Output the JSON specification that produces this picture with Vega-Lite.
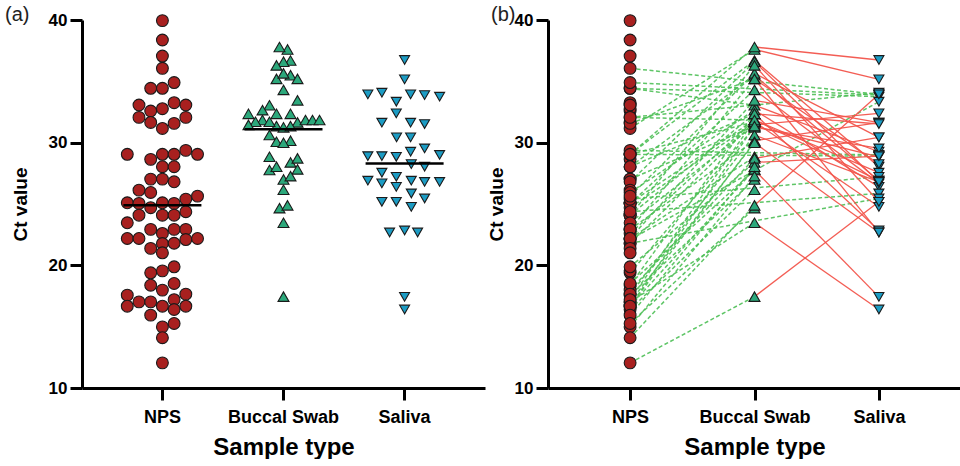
{
"$schema": "https://vega.github.io/schema/vega-lite/v6.json",
"padding": {"left": 5, "top": 5, "right": 0, "bottom": 0},
"spacing": 63,
"bounds": "flush",
"datasets": {
"medians": [{"sample":"NPS","median":24.9},{"sample":"Buccal Swab","median":31.1},{"sample":"Saliva","median":28.3}],
"points": [
{"id":1,"sample":"NPS","ct":39.95,"swarm":0},
{"id":2,"sample":"NPS","ct":38.37,"swarm":0},
{"id":3,"sample":"NPS","ct":37.06,"swarm":0},
{"id":4,"sample":"NPS","ct":36.06,"swarm":0},
{"id":5,"sample":"NPS","ct":34.43,"swarm":-11.7},
{"id":6,"sample":"NPS","ct":34.43,"swarm":0},
{"id":7,"sample":"NPS","ct":34.9,"swarm":11.7},
{"id":8,"sample":"NPS","ct":33.07,"swarm":-23.4},
{"id":9,"sample":"NPS","ct":32.58,"swarm":-11.7},
{"id":10,"sample":"NPS","ct":32.77,"swarm":0},
{"id":11,"sample":"NPS","ct":33.26,"swarm":11.7},
{"id":12,"sample":"NPS","ct":33.07,"swarm":23.4},
{"id":13,"sample":"NPS","ct":32.06,"swarm":-23.4},
{"id":14,"sample":"NPS","ct":31.65,"swarm":-11.7},
{"id":15,"sample":"NPS","ct":31.16,"swarm":0},
{"id":16,"sample":"NPS","ct":31.57,"swarm":11.7},
{"id":17,"sample":"NPS","ct":32.06,"swarm":23.4},
{"id":18,"sample":"NPS","ct":29.05,"swarm":-35.1},
{"id":19,"sample":"NPS","ct":28.64,"swarm":-11.7},
{"id":20,"sample":"NPS","ct":29.05,"swarm":0},
{"id":21,"sample":"NPS","ct":29.05,"swarm":11.7},
{"id":22,"sample":"NPS","ct":29.37,"swarm":23.4},
{"id":23,"sample":"NPS","ct":29.05,"swarm":35.1},
{"id":24,"sample":"NPS","ct":28.04,"swarm":0},
{"id":25,"sample":"NPS","ct":28.04,"swarm":11.7},
{"id":26,"sample":"NPS","ct":27.03,"swarm":-11.7},
{"id":27,"sample":"NPS","ct":27.03,"swarm":0},
{"id":28,"sample":"NPS","ct":26.81,"swarm":11.7},
{"id":29,"sample":"NPS","ct":26.13,"swarm":-23.4},
{"id":30,"sample":"NPS","ct":25.94,"swarm":-11.7},
{"id":31,"sample":"NPS","ct":25.1,"swarm":-35.1},
{"id":32,"sample":"NPS","ct":25.05,"swarm":-23.4},
{"id":33,"sample":"NPS","ct":24.7,"swarm":-11.7},
{"id":34,"sample":"NPS","ct":25.1,"swarm":0},
{"id":35,"sample":"NPS","ct":25.05,"swarm":11.7},
{"id":36,"sample":"NPS","ct":25.4,"swarm":23.4},
{"id":37,"sample":"NPS","ct":25.64,"swarm":35.1},
{"id":38,"sample":"NPS","ct":24.09,"swarm":-23.4},
{"id":39,"sample":"NPS","ct":24.09,"swarm":0},
{"id":40,"sample":"NPS","ct":24.09,"swarm":11.7},
{"id":41,"sample":"NPS","ct":24.37,"swarm":23.4},
{"id":42,"sample":"NPS","ct":23.47,"swarm":-35.1},
{"id":43,"sample":"NPS","ct":22.93,"swarm":-11.7},
{"id":44,"sample":"NPS","ct":22.6,"swarm":0},
{"id":45,"sample":"NPS","ct":22.93,"swarm":11.7},
{"id":46,"sample":"NPS","ct":22.93,"swarm":23.4},
{"id":47,"sample":"NPS","ct":22.19,"swarm":-35.1},
{"id":48,"sample":"NPS","ct":22.19,"swarm":-23.4},
{"id":49,"sample":"NPS","ct":21.78,"swarm":0},
{"id":50,"sample":"NPS","ct":21.8,"swarm":11.7},
{"id":51,"sample":"NPS","ct":22.1,"swarm":23.4},
{"id":52,"sample":"NPS","ct":22.19,"swarm":35.1},
{"id":53,"sample":"NPS","ct":21.38,"swarm":-11.7},
{"id":54,"sample":"NPS","ct":21.02,"swarm":0},
{"id":55,"sample":"NPS","ct":19.39,"swarm":-11.7},
{"id":56,"sample":"NPS","ct":19.55,"swarm":0},
{"id":57,"sample":"NPS","ct":19.88,"swarm":11.7},
{"id":58,"sample":"NPS","ct":18.38,"swarm":-11.7},
{"id":59,"sample":"NPS","ct":17.98,"swarm":0},
{"id":60,"sample":"NPS","ct":18.52,"swarm":11.7},
{"id":61,"sample":"NPS","ct":17.57,"swarm":-35.1},
{"id":62,"sample":"NPS","ct":17.65,"swarm":23.4},
{"id":63,"sample":"NPS","ct":16.67,"swarm":-35.1},
{"id":64,"sample":"NPS","ct":17.02,"swarm":-23.4},
{"id":65,"sample":"NPS","ct":17.02,"swarm":-11.7},
{"id":66,"sample":"NPS","ct":16.67,"swarm":0},
{"id":67,"sample":"NPS","ct":17.2,"swarm":11.7},
{"id":68,"sample":"NPS","ct":16.4,"swarm":11.7},
{"id":69,"sample":"NPS","ct":16.67,"swarm":23.4},
{"id":70,"sample":"NPS","ct":15.94,"swarm":-11.7},
{"id":71,"sample":"NPS","ct":14.98,"swarm":0},
{"id":72,"sample":"NPS","ct":15.26,"swarm":11.7},
{"id":73,"sample":"NPS","ct":14.1,"swarm":0},
{"id":74,"sample":"NPS","ct":12.05,"swarm":0},
{"id":6,"sample":"Buccal Swab","ct":33.05,"swarm":-14},
{"id":15,"sample":"Buccal Swab","ct":37.6,"swarm":4},
{"id":16,"sample":"Buccal Swab","ct":35.2,"swarm":-7},
{"id":17,"sample":"Buccal Swab","ct":31.85,"swarm":-21},
{"id":20,"sample":"Buccal Swab","ct":36.7,"swarm":7},
{"id":21,"sample":"Buccal Swab","ct":31.7,"swarm":-28},
{"id":23,"sample":"Buccal Swab","ct":37.8,"swarm":-4},
{"id":24,"sample":"Buccal Swab","ct":35.5,"swarm":7},
{"id":25,"sample":"Buccal Swab","ct":32.35,"swarm":-35},
{"id":27,"sample":"Buccal Swab","ct":31.35,"swarm":-7},
{"id":28,"sample":"Buccal Swab","ct":36.6,"swarm":0},
{"id":30,"sample":"Buccal Swab","ct":32.65,"swarm":-21},
{"id":32,"sample":"Buccal Swab","ct":34.3,"swarm":0},
{"id":33,"sample":"Buccal Swab","ct":31.65,"swarm":14},
{"id":34,"sample":"Buccal Swab","ct":31.85,"swarm":22},
{"id":37,"sample":"Buccal Swab","ct":35.65,"swarm":0},
{"id":39,"sample":"Buccal Swab","ct":32.35,"swarm":-7},
{"id":40,"sample":"Buccal Swab","ct":36.3,"swarm":-7},
{"id":42,"sample":"Buccal Swab","ct":31.45,"swarm":-35},
{"id":44,"sample":"Buccal Swab","ct":31.85,"swarm":29},
{"id":45,"sample":"Buccal Swab","ct":30.16,"swarm":7},
{"id":46,"sample":"Buccal Swab","ct":35.2,"swarm":14},
{"id":48,"sample":"Buccal Swab","ct":33.45,"swarm":14},
{"id":49,"sample":"Buccal Swab","ct":31.7,"swarm":-14},
{"id":52,"sample":"Buccal Swab","ct":28.85,"swarm":-14},
{"id":55,"sample":"Buccal Swab","ct":31.25,"swarm":0},
{"id":57,"sample":"Buccal Swab","ct":28.39,"swarm":7},
{"id":58,"sample":"Buccal Swab","ct":32.35,"swarm":7},
{"id":59,"sample":"Buccal Swab","ct":28.72,"swarm":14},
{"id":60,"sample":"Buccal Swab","ct":27.77,"swarm":-14},
{"id":61,"sample":"Buccal Swab","ct":27.0,"swarm":0},
{"id":62,"sample":"Buccal Swab","ct":30.62,"swarm":-14},
{"id":63,"sample":"Buccal Swab","ct":30.07,"swarm":-7},
{"id":64,"sample":"Buccal Swab","ct":23.47,"swarm":0},
{"id":65,"sample":"Buccal Swab","ct":29.99,"swarm":0},
{"id":66,"sample":"Buccal Swab","ct":27.82,"swarm":14},
{"id":67,"sample":"Buccal Swab","ct":31.85,"swarm":36},
{"id":68,"sample":"Buccal Swab","ct":26.16,"swarm":0},
{"id":69,"sample":"Buccal Swab","ct":31.35,"swarm":7},
{"id":70,"sample":"Buccal Swab","ct":28.04,"swarm":-7},
{"id":71,"sample":"Buccal Swab","ct":27.27,"swarm":7},
{"id":72,"sample":"Buccal Swab","ct":24.66,"swarm":-4},
{"id":73,"sample":"Buccal Swab","ct":24.89,"swarm":4},
{"id":74,"sample":"Buccal Swab","ct":17.45,"swarm":0},
{"id":4,"sample":"Saliva","ct":33.94,"swarm":-36.7},
{"id":5,"sample":"Saliva","ct":33.75,"swarm":35},
{"id":6,"sample":"Saliva","ct":29.26,"swarm":6},
{"id":7,"sample":"Saliva","ct":33.88,"swarm":20},
{"id":13,"sample":"Saliva","ct":34.07,"swarm":-22.7},
{"id":15,"sample":"Saliva","ct":35.16,"swarm":0},
{"id":16,"sample":"Saliva","ct":22.68,"swarm":-15},
{"id":18,"sample":"Saliva","ct":28.9,"swarm":-36.7},
{"id":20,"sample":"Saliva","ct":28.04,"swarm":20},
{"id":22,"sample":"Saliva","ct":29.0,"swarm":35},
{"id":23,"sample":"Saliva","ct":36.74,"swarm":0},
{"id":24,"sample":"Saliva","ct":26.9,"swarm":6.7},
{"id":27,"sample":"Saliva","ct":28.85,"swarm":-8.3},
{"id":28,"sample":"Saliva","ct":26.8,"swarm":20},
{"id":30,"sample":"Saliva","ct":26.4,"swarm":-8.3},
{"id":32,"sample":"Saliva","ct":26.68,"swarm":-22.7},
{"id":34,"sample":"Saliva","ct":27.55,"swarm":-22.7},
{"id":36,"sample":"Saliva","ct":27.22,"swarm":-8.3},
{"id":37,"sample":"Saliva","ct":30.43,"swarm":-8},
{"id":39,"sample":"Saliva","ct":22.84,"swarm":0},
{"id":40,"sample":"Saliva","ct":25.18,"swarm":-22.7},
{"id":41,"sample":"Saliva","ct":25.86,"swarm":6.7},
{"id":42,"sample":"Saliva","ct":32.39,"swarm":-8.3},
{"id":44,"sample":"Saliva","ct":26.9,"swarm":-36.7},
{"id":45,"sample":"Saliva","ct":31.63,"swarm":-22.7},
{"id":46,"sample":"Saliva","ct":28.25,"swarm":6.7},
{"id":48,"sample":"Saliva","ct":31.63,"swarm":6},
{"id":49,"sample":"Saliva","ct":24.77,"swarm":6.7},
{"id":50,"sample":"Saliva","ct":25.45,"swarm":20},
{"id":51,"sample":"Saliva","ct":33.34,"swarm":-8.3},
{"id":55,"sample":"Saliva","ct":29.53,"swarm":20},
{"id":57,"sample":"Saliva","ct":28.9,"swarm":-22.7},
{"id":58,"sample":"Saliva","ct":31.52,"swarm":20},
{"id":59,"sample":"Saliva","ct":30.43,"swarm":6},
{"id":60,"sample":"Saliva","ct":17.43,"swarm":0},
{"id":62,"sample":"Saliva","ct":26.8,"swarm":35},
{"id":64,"sample":"Saliva","ct":16.4,"swarm":0},
{"id":65,"sample":"Saliva","ct":22.68,"swarm":13},
{"id":73,"sample":"Saliva","ct":33.94,"swarm":6},
{"id":74,"sample":"Saliva","ct":25.18,"swarm":-8.3}
]
},
"hconcat": [
{
"width": 403,
"height": 368,
"title": {"text": "(a)", "anchor": "start", "frame": "bounds", "fontSize": 20, "fontWeight": "normal", "font": "Liberation Sans", "color": "#222222", "offset": -14, "dx": -6},
"layer": [
{
"data": {"name": "points"},
"mark": {"type": "point", "filled": true, "stroke": "#1a1a1a", "strokeWidth": 1.1, "opacity": 1},
"encoding": {
"x": {"field": "sample", "type": "nominal", "title": "Sample type",
"scale": {"type": "band", "domain": ["NPS", "Buccal Swab", "Saliva"], "paddingInner": 0, "paddingOuter": 0.164},
"axis": {"labelAngle": 0, "labelAlign": "center", "labelFontSize": 18, "titleFontSize": 24, "labelPadding": 8, "titlePadding": 9}},
"xOffset": {"field": "swarm", "type": "quantitative", "scale": {"domain": [-60.5, 60.5]}},
"y": {"field": "ct", "type": "quantitative", "title": "Ct value",
"scale": {"domain": [10, 40], "nice": false, "zero": false},
"axis": {"values": [10, 20, 30, 40], "labelFontSize": 17, "titleFontSize": 19, "labelPadding": 3, "titlePadding": 18}},
"shape": {"field": "sample", "type": "nominal", "scale": {"domain": ["NPS", "Buccal Swab", "Saliva"], "range": ["circle", "triangle-up", "triangle-down"]}, "legend": null},
"fill": {"field": "sample", "type": "nominal", "scale": {"domain": ["NPS", "Buccal Swab", "Saliva"], "range": ["#a8201f", "#2ca87b", "#1c9cc4"]}, "legend": null},
"size": {"field": "sample", "type": "nominal", "scale": {"domain": ["NPS", "Buccal Swab", "Saliva"], "range": [140, 100, 100]}, "legend": null}
}
},
{
"data": {"name": "medians"},
"mark": {"type": "tick", "color": "black", "size": 78, "thickness": 2.5, "opacity": 1},
"encoding": {
"x": {"field": "sample", "type": "nominal", "title": "Sample type"},
"y": {"field": "median", "type": "quantitative", "title": "Ct value"}
}
}
]
},
{
"width": 413,
"height": 368,
"title": {"text": "(b)", "anchor": "start", "frame": "bounds", "fontSize": 20, "fontWeight": "normal", "font": "Liberation Sans", "color": "#222222", "offset": -14, "dx": 4},
"layer": [
{
"data": {"name": "points"},
"transform": [{"pivot": "sample", "value": "ct", "groupby": ["id"], "op": "max"}, {"filter": "datum['Buccal Swab'] > 0 && datum['NPS'] > 0"}],
"mark": {"type": "rule", "color": "#4cbf55", "strokeWidth": 1.5, "strokeDash": [4, 2.5], "opacity": 0.9},
"encoding": {
"x": {"datum": "NPS", "type": "nominal", "title": "Sample type", "scale": {"type": "point", "domain": ["NPS", "Buccal Swab", "Saliva"], "padding": 0.66}},
"x2": {"datum": "Buccal Swab"},
"y": {"field": "NPS", "type": "quantitative", "title": "Ct value", "scale": {"domain": [10, 40], "nice": false, "zero": false}},
"y2": {"field": "Buccal Swab"}
}
},
{
"data": {"name": "points"},
"transform": [{"pivot": "sample", "value": "ct", "groupby": ["id"], "op": "max"}, {"filter": "!(datum['Buccal Swab'] > 0) && datum['Saliva'] > 0 && datum['NPS'] > 0"}],
"mark": {"type": "rule", "color": "#4cbf55", "strokeWidth": 1.5, "strokeDash": [4, 2.5], "opacity": 0.9},
"encoding": {
"x": {"datum": "NPS", "type": "nominal", "title": "Sample type", "scale": {"type": "point", "domain": ["NPS", "Buccal Swab", "Saliva"], "padding": 0.66}},
"x2": {"datum": "Saliva"},
"y": {"field": "NPS", "type": "quantitative", "title": "Ct value", "scale": {"domain": [10, 40], "nice": false, "zero": false}},
"y2": {"field": "Saliva"}
}
},
{
"data": {"name": "points"},
"transform": [{"pivot": "sample", "value": "ct", "groupby": ["id"], "op": "max"}, {"filter": "datum['Buccal Swab'] > 0 && datum['Saliva'] > 0"}],
"mark": {"type": "rule", "color": "#f2544b", "strokeWidth": 1.3, "opacity": 0.95},
"encoding": {
"x": {"datum": "Buccal Swab", "type": "nominal", "title": "Sample type", "scale": {"type": "point", "domain": ["NPS", "Buccal Swab", "Saliva"], "padding": 0.66}},
"x2": {"datum": "Saliva"},
"y": {"field": "Buccal Swab", "type": "quantitative", "title": "Ct value", "scale": {"domain": [10, 40], "nice": false, "zero": false}},
"y2": {"field": "Saliva"}
}
},
{
"data": {"name": "points"},
"mark": {"type": "point", "filled": true, "stroke": "#1a1a1a", "strokeWidth": 1.1, "opacity": 1},
"encoding": {
"x": {"field": "sample", "type": "nominal", "title": "Sample type",
"scale": {"type": "point", "domain": ["NPS", "Buccal Swab", "Saliva"], "padding": 0.66},
"axis": {"labelAngle": 0, "labelAlign": "center", "labelFontSize": 18, "titleFontSize": 24, "labelPadding": 8, "titlePadding": 9}},
"y": {"field": "ct", "type": "quantitative", "title": "Ct value",
"scale": {"domain": [10, 40], "nice": false, "zero": false},
"axis": {"values": [10, 20, 30, 40], "labelFontSize": 17, "titleFontSize": 19, "labelPadding": 3, "titlePadding": 8}},
"shape": {"field": "sample", "type": "nominal", "scale": {"domain": ["NPS", "Buccal Swab", "Saliva"], "range": ["circle", "triangle-up", "triangle-down"]}, "legend": null},
"fill": {"field": "sample", "type": "nominal", "scale": {"domain": ["NPS", "Buccal Swab", "Saliva"], "range": ["#a8201f", "#2ca87b", "#1c9cc4"]}, "legend": null},
"size": {"field": "sample", "type": "nominal", "scale": {"domain": ["NPS", "Buccal Swab", "Saliva"], "range": [140, 100, 100]}, "legend": null}
}
}
]
}
],
"config": {
"view": {"stroke": null},
"axisX": {"labelAngle": 0},
"axis": {"grid": false, "domainColor": "black", "domainWidth": 3, "tickColor": "black", "tickWidth": 3, "tickSize": 12, "labelFont": "Liberation Sans", "labelFontWeight": "bold", "labelColor": "black", "titleFont": "Liberation Sans", "titleFontWeight": "bold", "titleColor": "black"}
}
}
